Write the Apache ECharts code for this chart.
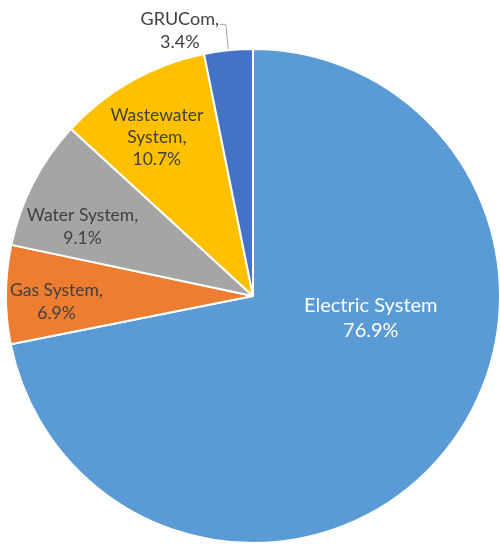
<!DOCTYPE html>
<html>
<head>
<meta charset="utf-8">
<script src="https://cdn.jsdelivr.net/npm/echarts@6/dist/echarts.min.js"></script>
<style>
html,body{margin:0;padding:0;background:#fff;}
#c{width:500px;height:545px;}
</style>
</head>
<body>
<div id="c"></div>
<script>
const categories = ['Electric System', 'Gas System', 'Water System', 'Wastewater System', 'GRUCom'];
const labelNames = ['Electric System', 'Gas System,', 'Water System,', 'Wastewater\nSystem,', 'GRUCom,'];
const values = [76.9, 6.9, 9.1, 10.7, 3.4];
const colors = ['#5B9BD5', '#ED7D31', '#A5A5A5', '#FFC000', '#4472C4'];
const labelShift = [[20, -58], [-70, 7], [-58, -11], [-34, -48], null];

const FONT = 'Lato';
const data = categories.map((c, i) => {
  const item = { name: c, value: values[i], itemStyle: { color: colors[i] } };
  if (i === 0) {
    item.label = { position: 'inside', color: '#ffffff', fontSize: 20, lineHeight: 25,
      formatter: p => labelNames[p.dataIndex] + '\n' + p.value + '%' };
  } else if (i === 4) {
    item.label = { position: 'outside', color: '#404040', padding: [12, 0, 0, 0], distanceToLabelLine: 1,
      formatter: p => '{a|' + labelNames[p.dataIndex] + '}\n{a|' + p.value + '%}',
      rich: { a: { width: 78, align: 'center', fontSize: 18, lineHeight: 23, color: '#404040', fontFamily: FONT } } };
    item.labelLine = { show: true, length: 26, length2: 6, lineStyle: { color: '#A6A6A6', width: 1 } };
  } else {
    item.label = { position: 'inside', color: '#404040', fontSize: 17.5, lineHeight: i === 3 ? 22 : 23,
      formatter: p => labelNames[p.dataIndex] + '\n' + p.value + '%' };
  }
  return item;
});

const chart = echarts.init(document.getElementById('c'), null, { renderer: 'canvas' });
chart.setOption({
  animation: false,
  backgroundColor: '#ffffff',
  series: [{
    type: 'pie',
    center: [253, 296],
    radius: 247,
    startAngle: 90,
    clockwise: true,
    avoidLabelOverlap: false,
    itemStyle: { borderColor: '#ffffff', borderWidth: 2 },
    label: { show: true, fontFamily: FONT, align: 'center' },
    labelLine: { show: false },
    labelLayout: function (p) {
      const s = labelShift[p.dataIndex];
      if (!s) return {};
      return { dx: s[0], dy: s[1] };
    },
    data: data
  }]
});
</script>
</body>
</html>
